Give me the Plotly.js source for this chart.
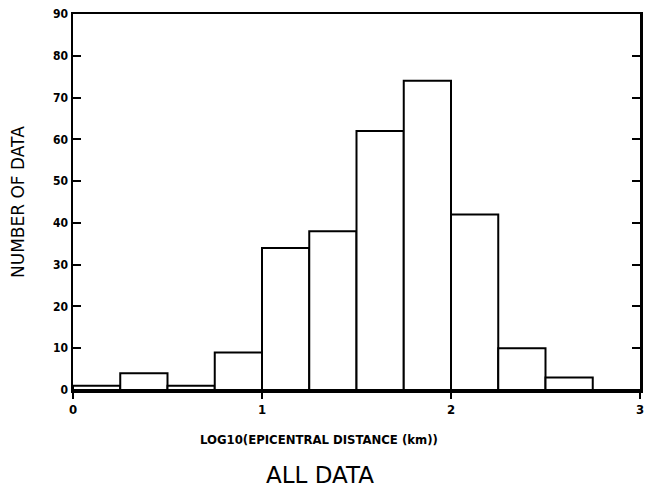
<!DOCTYPE html>
<html>
<head>
<meta charset="utf-8">
<script src="https://cdn.plot.ly/plotly-3.0.1.min.js"></script>
<style>
  html, body { margin: 0; padding: 0; background: #fff; }
  #chart { width: 645px; height: 492px; }
</style>
</head>
<body>
<div id="chart"></div>
<script>
// Histogram of log10 epicentral distance, bins of width 0.25
const binLeft = [0, 0.25, 0.5, 0.75, 1.0, 1.25, 1.5, 1.75, 2.0, 2.25, 2.5, 2.75];
const counts  = [1, 4, 1, 9, 34, 38, 62, 74, 42, 10, 3, 0];
const binWidth = 0.25;
const xTicks = [0, 1, 2, 3];
const yTicks = [0, 10, 20, 30, 40, 50, 60, 70, 80, 90];

const centers = binLeft.map(v => v + binWidth / 2);

const tickFont = { family: "'DejaVu Sans Condensed', 'Liberation Sans Narrow', sans-serif", size: 12, color: '#000', weight: 'bold' };

const trace = {
  type: 'bar',
  x: centers,
  y: counts,
  width: binWidth,
  marker: { color: '#ffffff', line: { color: '#000', width: 2 } },
  hoverinfo: 'skip'
};

const layout = {
  width: 645,
  height: 492,
  margin: { l: 73, r: 5, t: 14, b: 102 },
  paper_bgcolor: '#fff',
  plot_bgcolor: '#fff',
  showlegend: false,
  bargap: 0,
  xaxis: {
    range: [0, 3],
    tickvals: xTicks,
    ticktext: xTicks.map(String),
    ticks: 'outside',
    ticklen: 6,
    tickwidth: 2,
    tickcolor: '#000',
    showline: true,
    linecolor: '#000',
    linewidth: 2.5,
    mirror: true,
    showgrid: false,
    zeroline: false,
    tickfont: { family: tickFont.family, size: 13, color: '#000', weight: 'bold' }
  },
  yaxis: {
    range: [0, 90],
    tickvals: yTicks,
    ticktext: yTicks.map(String),
    ticks: 'inside',
    ticklen: 8,
    tickwidth: 2,
    tickcolor: '#000',
    showline: true,
    linecolor: '#000',
    linewidth: 2.5,
    mirror: 'ticks',
    showgrid: false,
    zeroline: false,
    tickfont: tickFont
  },
  annotations: [
    {
      text: 'LOG10(EPICENTRAL DISTANCE (km))',
      xref: 'paper', yref: 'paper',
      x: (319 - 73) / 567, y: -50 / 376,
      xanchor: 'center', yanchor: 'middle',
      showarrow: false,
      font: { family: "'DejaVu Sans Condensed', 'Liberation Sans Narrow', sans-serif", size: 13, color: '#000', weight: 'bold' }
    },
    {
      text: 'ALL DATA',
      xref: 'paper', yref: 'paper',
      x: (320 - 73) / 567, y: -85 / 376,
      xanchor: 'center', yanchor: 'middle',
      showarrow: false,
      font: { family: "'DejaVu Sans', sans-serif", size: 23, color: '#000' }
    },
    {
      text: 'NUMBER OF DATA',
      xref: 'paper', yref: 'paper',
      x: (18 - 73) / 567, y: 0.5,
      xanchor: 'center', yanchor: 'middle',
      textangle: -90,
      showarrow: false,
      font: { family: "'DejaVu Sans', sans-serif", size: 17, color: '#000' }
    }
  ]
};

Plotly.newPlot('chart', [trace], layout, { displayModeBar: false, staticPlot: true });
</script>
</body>
</html>
